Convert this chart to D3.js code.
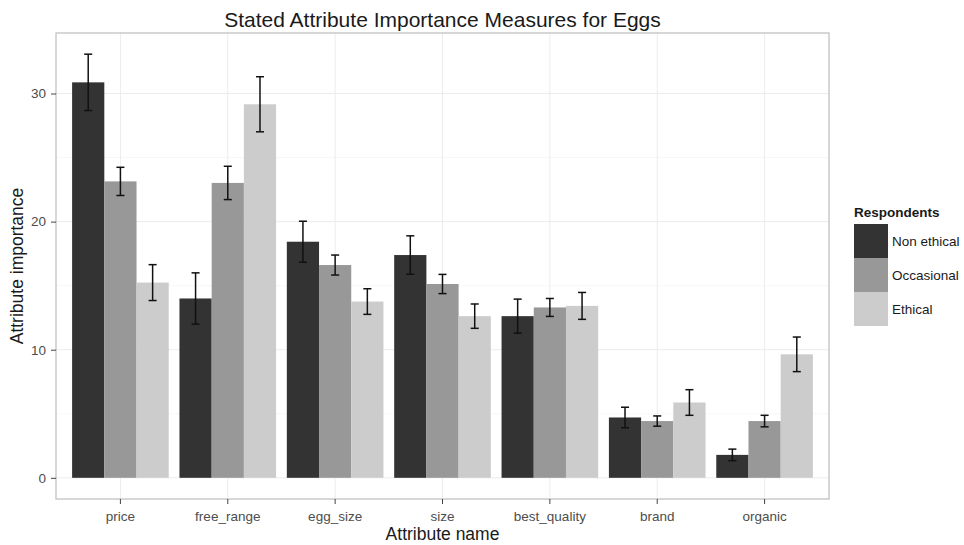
<!DOCTYPE html>
<html>
<head>
<meta charset="utf-8">
<script src="https://cdn.jsdelivr.net/npm/d3@7"></script>
<style>
  body { margin: 0; background: #fff; }
  svg { display: block; font-family: "Liberation Sans", Arial, Helvetica, sans-serif; }
</style>
</head>
<body>
<svg id="chart" width="964" height="545"></svg>
<script>
// attributes on the x axis
const attributes = ["price", "free_range", "egg_size", "size", "best_quality", "brand", "organic"];
const groups = ["Non ethical", "Occasional", "Ethical"];

// mean importance per group, in attribute order
const nonEthical = [30.87, 14.0, 18.43, 17.39, 12.62, 4.71, 1.79];
const occasional = [23.14, 23.02, 16.61, 15.13, 13.3, 4.43, 4.43];
const ethical    = [15.24, 29.16, 13.76, 12.62, 13.42, 5.88, 9.64];

// half-width of the error bars
const errNonEthical = [2.2, 2.0, 1.6, 1.5, 1.33, 0.8, 0.45];
const errOccasional = [1.1, 1.3, 0.78, 0.75, 0.7, 0.4, 0.45];
const errEthical    = [1.4, 2.15, 1.0, 0.95, 1.05, 1.0, 1.35];

const yTicks = [0, 10, 20, 30];
const yMinor = [5, 15, 25];

const fills = ["#333333", "#989898", "#cccccc"];

const seriesVals = [nonEthical, occasional, ethical];
const seriesErr = [errNonEthical, errOccasional, errEthical];

const rows = [];
attributes.forEach((a, i) => {
    groups.forEach((g, j) => {
        rows.push({ attr: a, group: g, value: seriesVals[j][i], err: seriesErr[j][i] });
    });
});

const svg = d3.select("#chart");
const panel = { left: 56, top: 33, right: 829, bottom: 499 };

// x: ggplot-like discrete scale, 0.6 units padding each side
const x = d3.scaleBand()
    .domain(attributes)
    .range([panel.left, panel.right])
    .paddingInner(0.1)
    .paddingOuter(0.15);

const xInner = d3.scaleBand()
    .domain(groups)
    .range([0, x.bandwidth()]);

const yMax = d3.max(rows, d => d.value + d.err);
const y = d3.scaleLinear()
    .domain([-0.05 * yMax, yMax * 1.05])
    .range([panel.bottom, panel.top]);

// panel background and grid
const g = svg.append("g");
g.append("rect")
    .attr("x", panel.left).attr("y", panel.top)
    .attr("width", panel.right - panel.left).attr("height", panel.bottom - panel.top)
    .attr("fill", "#fff");

g.selectAll("line.minor")
    .data(yMinor)
    .enter().append("line")
    .attr("x1", panel.left).attr("x2", panel.right)
    .attr("y1", d => y(d)).attr("y2", d => y(d))
    .attr("stroke", "#f7f7f7").attr("stroke-width", 1);

g.selectAll("line.major-y")
    .data(yTicks)
    .enter().append("line")
    .attr("x1", panel.left).attr("x2", panel.right)
    .attr("y1", d => y(d)).attr("y2", d => y(d))
    .attr("stroke", "#ececec").attr("stroke-width", 1);

g.selectAll("line.major-x")
    .data(attributes)
    .enter().append("line")
    .attr("x1", d => x(d) + x.bandwidth() / 2).attr("x2", d => x(d) + x.bandwidth() / 2)
    .attr("y1", panel.top).attr("y2", panel.bottom)
    .attr("stroke", "#ececec").attr("stroke-width", 1);

// bars
g.selectAll("rect.bar")
    .data(rows)
    .enter().append("rect")
    .attr("class", "bar")
    .attr("x", d => x(d.attr) + xInner(d.group))
    .attr("width", xInner.bandwidth())
    .attr("y", d => y(d.value))
    .attr("height", d => y(0) - y(d.value))
    .attr("fill", d => fills[groups.indexOf(d.group)]);

// error bars
const capW = xInner.bandwidth() * 0.25;
const eb = g.selectAll("g.err")
    .data(rows)
    .enter().append("g")
    .attr("transform", d => `translate(${x(d.attr) + xInner(d.group) + xInner.bandwidth() / 2},0)`);
eb.append("line")
    .attr("y1", d => y(d.value - d.err)).attr("y2", d => y(d.value + d.err))
    .attr("stroke", "#111").attr("stroke-width", 1.5);
eb.append("line")
    .attr("x1", -capW / 2).attr("x2", capW / 2)
    .attr("y1", d => y(d.value + d.err)).attr("y2", d => y(d.value + d.err))
    .attr("stroke", "#111").attr("stroke-width", 1.5);
eb.append("line")
    .attr("x1", -capW / 2).attr("x2", capW / 2)
    .attr("y1", d => y(d.value - d.err)).attr("y2", d => y(d.value - d.err))
    .attr("stroke", "#111").attr("stroke-width", 1.5);

// panel border
g.append("rect")
    .attr("x", panel.left).attr("y", panel.top)
    .attr("width", panel.right - panel.left).attr("height", panel.bottom - panel.top)
    .attr("fill", "none").attr("stroke", "#bdbdbd").attr("stroke-width", 1.2);

// axes
const xAxis = svg.append("g")
    .attr("transform", `translate(0,${panel.bottom})`)
    .call(d3.axisBottom(x).tickSize(5).tickPadding(7));
const yAxis = svg.append("g")
    .attr("transform", `translate(${panel.left},0)`)
    .call(d3.axisLeft(y).tickValues(yTicks).tickSize(5).tickPadding(5));

[xAxis, yAxis].forEach(ax => {
    ax.select(".domain").remove();
    ax.selectAll(".tick line").attr("stroke", "#444").attr("stroke-width", 1);
    ax.selectAll(".tick text")
        .attr("fill", "#4d4d4d")
        .style("font-size", "13.5px")
        .style("font-family", "'Liberation Sans', Arial, sans-serif");
});

// titles
svg.append("text")
    .attr("x", (panel.left + panel.right) / 2).attr("y", 27)
    .attr("text-anchor", "middle")
    .attr("fill", "#1a1a1a")
    .style("font-size", "21px")
    .text("Stated Attribute Importance Measures for Eggs");

svg.append("text")
    .attr("x", (panel.left + panel.right) / 2).attr("y", 540)
    .attr("text-anchor", "middle")
    .attr("fill", "#1a1a1a")
    .style("font-size", "17.5px")
    .text("Attribute name");

svg.append("text")
    .attr("transform", `translate(23,${(panel.top + panel.bottom) / 2}) rotate(-90)`)
    .attr("text-anchor", "middle")
    .attr("fill", "#1a1a1a")
    .style("font-size", "17.5px")
    .text("Attribute importance");

// legend
const legend = svg.append("g").attr("transform", "translate(854,0)");
legend.append("text")
    .attr("x", 0).attr("y", 217)
    .attr("fill", "#1a1a1a")
    .style("font-size", "13.5px")
    .style("font-weight", "bold")
    .text("Respondents");

const keyH = 34;
const items = legend.selectAll("g.item")
    .data(groups)
    .enter().append("g")
    .attr("transform", (d, i) => `translate(0,${224 + i * keyH})`);
items.append("rect")
    .attr("width", 34).attr("height", keyH)
    .attr("fill", (d, i) => fills[i]);
items.append("text")
    .attr("x", 38).attr("y", keyH / 2)
    .attr("dy", "0.35em")
    .attr("fill", "#1a1a1a")
    .style("font-size", "13.5px")
    .text(d => d);
</script>
</body>
</html>
